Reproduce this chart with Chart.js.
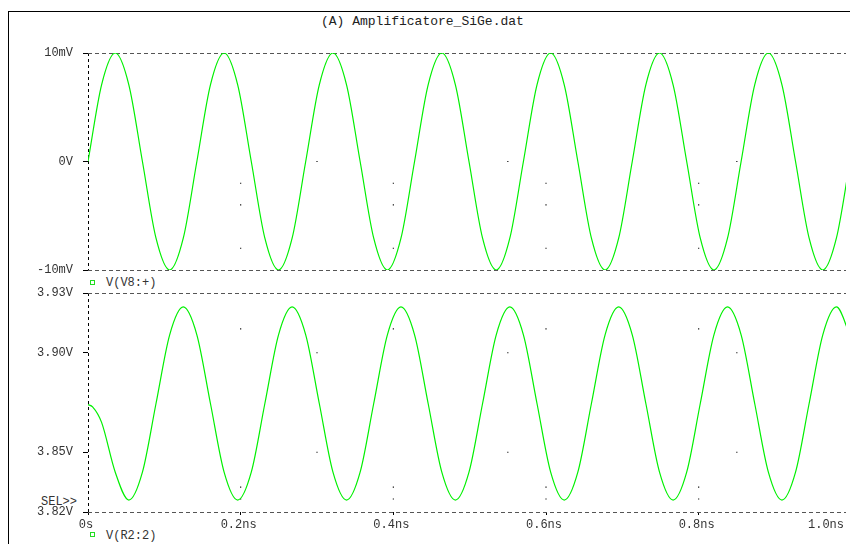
<!DOCTYPE html>
<html>
<head>
<meta charset="utf-8">
<script src="https://cdn.jsdelivr.net/npm/chart.js@4.4.0/dist/chart.umd.min.js"></script>
<style>
html, body { margin:0; padding:0; background:#fff; overflow:hidden; }
#pagina { position:relative; width:850px; height:544px; }
canvas { position:absolute; left:0; top:0; }
.marco { position:absolute; left:8px; top:11px; width:842px; height:533px; border-top:1px solid #000; border-left:1px solid #000; }
.texto { position:absolute; font-family:"Liberation Mono", monospace; font-size:12px; line-height:14px; color:#333; white-space:pre; }
.cuadro { position:absolute; width:3px; height:3px; border:1px solid #22dd22; }
</style>
</head>
<body>
<div id="pagina">
    <div class="marco"></div>
    <div class="texto" style="left:321px;top:15px;font-size:13px;color:#222;">(A) Amplificatore_SiGe.dat</div>
    <div class="cuadro" style="left:90px;top:280px;"></div>
    <div class="texto" style="left:106px;top:276px;">V(V8:+)</div>
    <div class="texto" style="left:41px;top:495px;">SEL&gt;&gt;</div>
    <div class="cuadro" style="left:90px;top:532px;"></div>
    <div class="texto" style="left:106px;top:529px;">V(R2:2)</div>
    <canvas id="graficoV8" width="850" height="544"></canvas>
    <canvas id="graficoR2" width="850" height="544"></canvas>
</div>
<script>

// tiempos en ns
const tiempos = [
    0, 0.0178, 0.0357, 0.0535, 0.0713, 0.0891, 0.1070, 0.1248,
    0.1426, 0.1604, 0.1783, 0.1961, 0.2139, 0.2317, 0.2496, 0.2674,
    0.2852, 0.3030, 0.3209, 0.3387, 0.3565, 0.3743, 0.3922, 0.4100,
    0.4278, 0.4456, 0.4635, 0.4813, 0.4991, 0.5169, 0.5348, 0.5526,
    0.5704, 0.5882, 0.6061, 0.6239, 0.6417, 0.6595, 0.6774, 0.6952,
    0.7130, 0.7308, 0.7487, 0.7665, 0.7843, 0.8021, 0.8200, 0.8378,
    0.8556, 0.8734, 0.8913, 0.9091, 0.9269, 0.9447, 0.9626, 0.9804,
    0.9982
];

// V(V8:+) en mV
const valoresV8 = [
    0, 7.07, 10, 7.07, 0, -7.07, -10, -7.07,
    0, 7.07, 10, 7.07, 0, -7.07, -10, -7.07,
    0, 7.07, 10, 7.07, 0, -7.07, -10, -7.07,
    0, 7.07, 10, 7.07, 0, -7.07, -10, -7.07,
    0, 7.07, 10, 7.07, 0, -7.07, -10, -7.07,
    0, 7.07, 10, 7.07, 0, -7.07, -10, -7.07,
    0, 7.07, 10, 7.07, 0, -7.07, -10, -7.07,
    0
];

const tiemposR2 = [
    0, 0.0060, 0.0178, 0.0357, 0.0535, 0.0713, 0.0891, 0.1070, 0.1248,
    0.1426, 0.1604, 0.1783, 0.1961, 0.2139, 0.2317, 0.2496, 0.2674,
    0.2852, 0.3030, 0.3209, 0.3387, 0.3565, 0.3743, 0.3922, 0.4100,
    0.4278, 0.4456, 0.4635, 0.4813, 0.4991, 0.5169, 0.5348, 0.5526,
    0.5704, 0.5882, 0.6061, 0.6239, 0.6417, 0.6595, 0.6774, 0.6952,
    0.7130, 0.7308, 0.7487, 0.7665, 0.7843, 0.8021, 0.8200, 0.8378,
    0.8556, 0.8734, 0.8913, 0.9091, 0.9269, 0.9447, 0.9626, 0.9804,
    0.9982
];

// V(R2:2) en V
const valoresR2 = [
    3.874, 3.8728, 3.865, 3.840,
    3.826, 3.840, 3.8745, 3.909, 3.923, 3.909, 3.8745, 3.840,
    3.826, 3.840, 3.8745, 3.909, 3.923, 3.909, 3.8745, 3.840,
    3.826, 3.840, 3.8745, 3.909, 3.923, 3.909, 3.8745, 3.840,
    3.826, 3.840, 3.8745, 3.909, 3.923, 3.909, 3.8745, 3.840,
    3.826, 3.840, 3.8745, 3.909, 3.923, 3.909, 3.8745, 3.840,
    3.826, 3.840, 3.8745, 3.909, 3.923, 3.909, 3.8745, 3.840,
    3.826, 3.840, 3.8745, 3.909, 3.923, 3.909
];

const ticksV8 = [-10, 0, 10];

const ticksR2 = [3.82, 3.85, 3.90, 3.93];

const ticksTiempo = [0, 0.2, 0.4, 0.6, 0.8];

const etiquetasTiempo = ["0s", "0.2ns", "0.4ns", "0.6ns", "0.8ns", "1.0ns"];

const finEje = 0.993;

// puntos sueltos de la rejilla punteada
const rejillaT = [0.2, 0.4, 0.6, 0.8];
const rejillaV8 = [-2, -4, -8];
const rejillaR2 = [3.912, 3.8325, 3.8265];
const mediaT = [0.3, 0.55, 0.85];
const mediaV8 = [0];
const mediaR2 = [3.90, 3.85];

const fuente = { family: "Liberation Mono", size: 12 };

const colorTexto = "#333";

const verde = "#00f000";

function puntosRejilla(ts, vs){

    const puntos = [];

    ts.forEach(t => vs.forEach(v => puntos.push({ x: t, y: v })));

    return puntos;

}

function datasetPuntos(ts, vs, ts2, vs2){

    return {
        type: "scatter",
        data: puntosRejilla(ts, vs).concat(puntosRejilla(ts2, vs2)),
        pointStyle: "rect",
        pointRadius: 0.8,
        pointBorderWidth: 0,
        backgroundColor: "#000",
        showLine: false
    };

}

function crearGraficoV8(){

    new Chart(

        document.getElementById("graficoV8"),

        {
            type: "line",

            data: {
                datasets: [
                    {
                        data: tiempos.map((t, i) => ({ x: t, y: valoresV8[i] })),
                        borderColor: verde,
                        borderWidth: 1.2,
                        pointRadius: 0,
                        cubicInterpolationMode: "monotone"
                    },
                    datasetPuntos(rejillaT, rejillaV8, mediaT, mediaV8)
                ]
            },

            options: {
                responsive: false,
                animation: false,
                events: [],
                layout: { padding: { top: 53, bottom: 274, left: 0, right: 0 } },
                plugins: { legend: { display: false }, tooltip: { enabled: false } },
                scales: {
                    x: {
                        type: "linear",
                        min: 0,
                        max: finEje,
                        afterBuildTicks: s => { s.ticks = [{ value: 0 }]; },
                        afterFit: s => { s.height = 0; s.paddingLeft = 0; s.paddingRight = 0; },
                        grid: { color: "#000", drawTicks: false },
                        border: { display: false, dash: [3, 3] },
                        ticks: { display: false }
                    },
                    y: {
                        min: -10,
                        max: 10,
                        afterBuildTicks: s => { s.ticks = ticksV8.map(v => ({ value: v })); },
                        afterFit: s => { s.width = 88; },
                        grid: {
                            color: c => c.tick && c.tick.value === 0 ? "rgba(0,0,0,0)" : "#555",
                            tickColor: "#000",
                            tickLength: 5
                        },
                        border: { display: false, dash: [4, 3] },
                        ticks: {
                            font: fuente,
                            color: colorTexto,
                            padding: 10,
                            callback: v => v === 0 ? "0V" : v + "mV"
                        }
                    }
                }
            }
        }

    );

}

function crearGraficoR2(){

    new Chart(

        document.getElementById("graficoR2"),

        {
            type: "line",

            data: {
                datasets: [
                    {
                        data: tiemposR2.map((t, i) => ({ x: t, y: valoresR2[i] })),
                        borderColor: verde,
                        borderWidth: 1.2,
                        pointRadius: 0,
                        cubicInterpolationMode: "monotone"
                    },
                    datasetPuntos(rejillaT, rejillaR2, mediaT, mediaR2)
                ]
            },

            options: {
                responsive: false,
                animation: false,
                events: [],
                layout: { padding: { top: 293, bottom: 0, left: 0, right: 0 } },
                plugins: { legend: { display: false }, tooltip: { enabled: false } },
                scales: {
                    x: {
                        type: "linear",
                        min: 0,
                        max: finEje,
                        afterBuildTicks: s => {
                            s.ticks = ticksTiempo.concat([finEje]).map(v => ({ value: v }));
                        },
                        afterFit: s => { s.height = 32; s.paddingLeft = 0; s.paddingRight = 0; },
                        grid: {
                            color: c => c.tick && c.tick.value === 0 ? "#000" : "rgba(0,0,0,0)",
                            tickColor: c => c.tick && c.tick.value === finEje ? "rgba(0,0,0,0)" : "#000",
                            tickLength: 3
                        },
                        border: { display: false, dash: [3, 3] },
                        ticks: {
                            font: fuente,
                            color: colorTexto,
                            padding: 3,
                            labelOffset: -2,
                            autoSkip: false,
                            maxRotation: 0,
                            // el ultimo rotulo queda cortado en el borde, se rellena con espacios
                            callback: (v, i) => i === ticksTiempo.length ? etiquetasTiempo[i] + "     " : etiquetasTiempo[i]
                        }
                    },
                    y: {
                        min: 3.82,
                        max: 3.93,
                        afterBuildTicks: s => { s.ticks = ticksR2.map(v => ({ value: v })); },
                        afterFit: s => { s.width = 88; },
                        grid: {
                            color: c => c.tick && (c.tick.value === 3.82 || c.tick.value === 3.93) ? "#555" : "rgba(0,0,0,0)",
                            tickColor: "#000",
                            tickLength: 5
                        },
                        border: { display: false, dash: [4, 3] },
                        ticks: {
                            font: fuente,
                            color: colorTexto,
                            padding: 10,
                            callback: v => v.toFixed(2) + "V"
                        }
                    }
                }
            }
        }

    );

}

window.onload = () => {

    crearGraficoV8();

    crearGraficoR2();

};

</script>
</body>
</html>
